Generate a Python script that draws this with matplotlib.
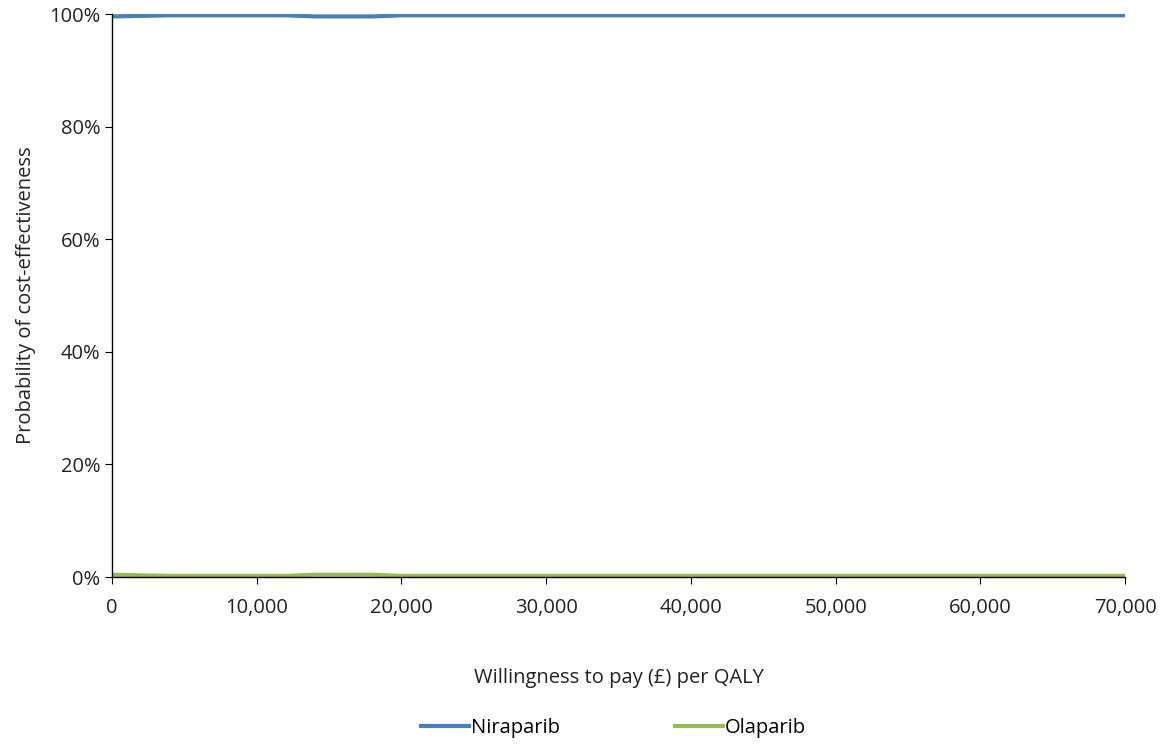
import numpy as np
import matplotlib.pyplot as plt
from matplotlib.ticker import FuncFormatter

# willingness-to-pay thresholds and probabilities
wtp = [0, 2000, 4000, 8000, 12000, 14000, 18000, 20000, 30000, 40000, 50000, 60000, 70000]
niraparib = [0.996, 0.997, 0.998, 0.998, 0.998, 0.996, 0.996, 0.998, 0.998, 0.998, 0.998, 0.998, 0.998]
olaparib = [0.004, 0.003, 0.002, 0.002, 0.002, 0.004, 0.004, 0.002, 0.002, 0.002, 0.002, 0.002, 0.002]

plt.rcParams['font.family'] = ['Open Sans', 'DejaVu Sans']

fig = plt.figure(figsize=(11.66, 7.46), dpi=100)
ax = fig.add_axes([0.096, 0.2265, 0.869, 0.7545])

ax.plot(wtp, niraparib, color='#4a7ebb', lw=3, label='Niraparib')
ax.plot(wtp, olaparib, color='#98b954', lw=3, label='Olaparib')

ax.set_xlim(0, 70000)
ax.set_ylim(0, 1)
ax.set_xticks(np.arange(0, 70001, 10000))
ax.set_yticks(np.arange(0, 1.01, 0.2))
ax.xaxis.set_major_formatter(FuncFormatter(lambda v, p: f'{v:,.0f}'))
ax.yaxis.set_major_formatter(FuncFormatter(lambda v, p: f'{v:.0%}'))
ax.tick_params(labelsize=14.5, length=5, color='black', labelcolor='#222222')
ax.tick_params(axis='x', pad=10)

for s in ['top', 'right']:
    ax.spines[s].set_visible(False)
for s in ['left', 'bottom']:
    ax.spines[s].set_color('black')
    ax.spines[s].set_linewidth(1)

ax.set_xlabel('Willingness to pay (£) per QALY', fontsize=14.5, labelpad=36, color='#222222')
ax.set_ylabel('Probability of cost-effectiveness', fontsize=14.5, labelpad=9, color='#222222')

fig.legend(loc='center', bbox_to_anchor=(0.526, 0.024), ncol=2, frameon=False,
           fontsize=14.5, handlelength=2.4, handletextpad=0.1, columnspacing=5.7)

fig.savefig('out.png', dpi=100)
